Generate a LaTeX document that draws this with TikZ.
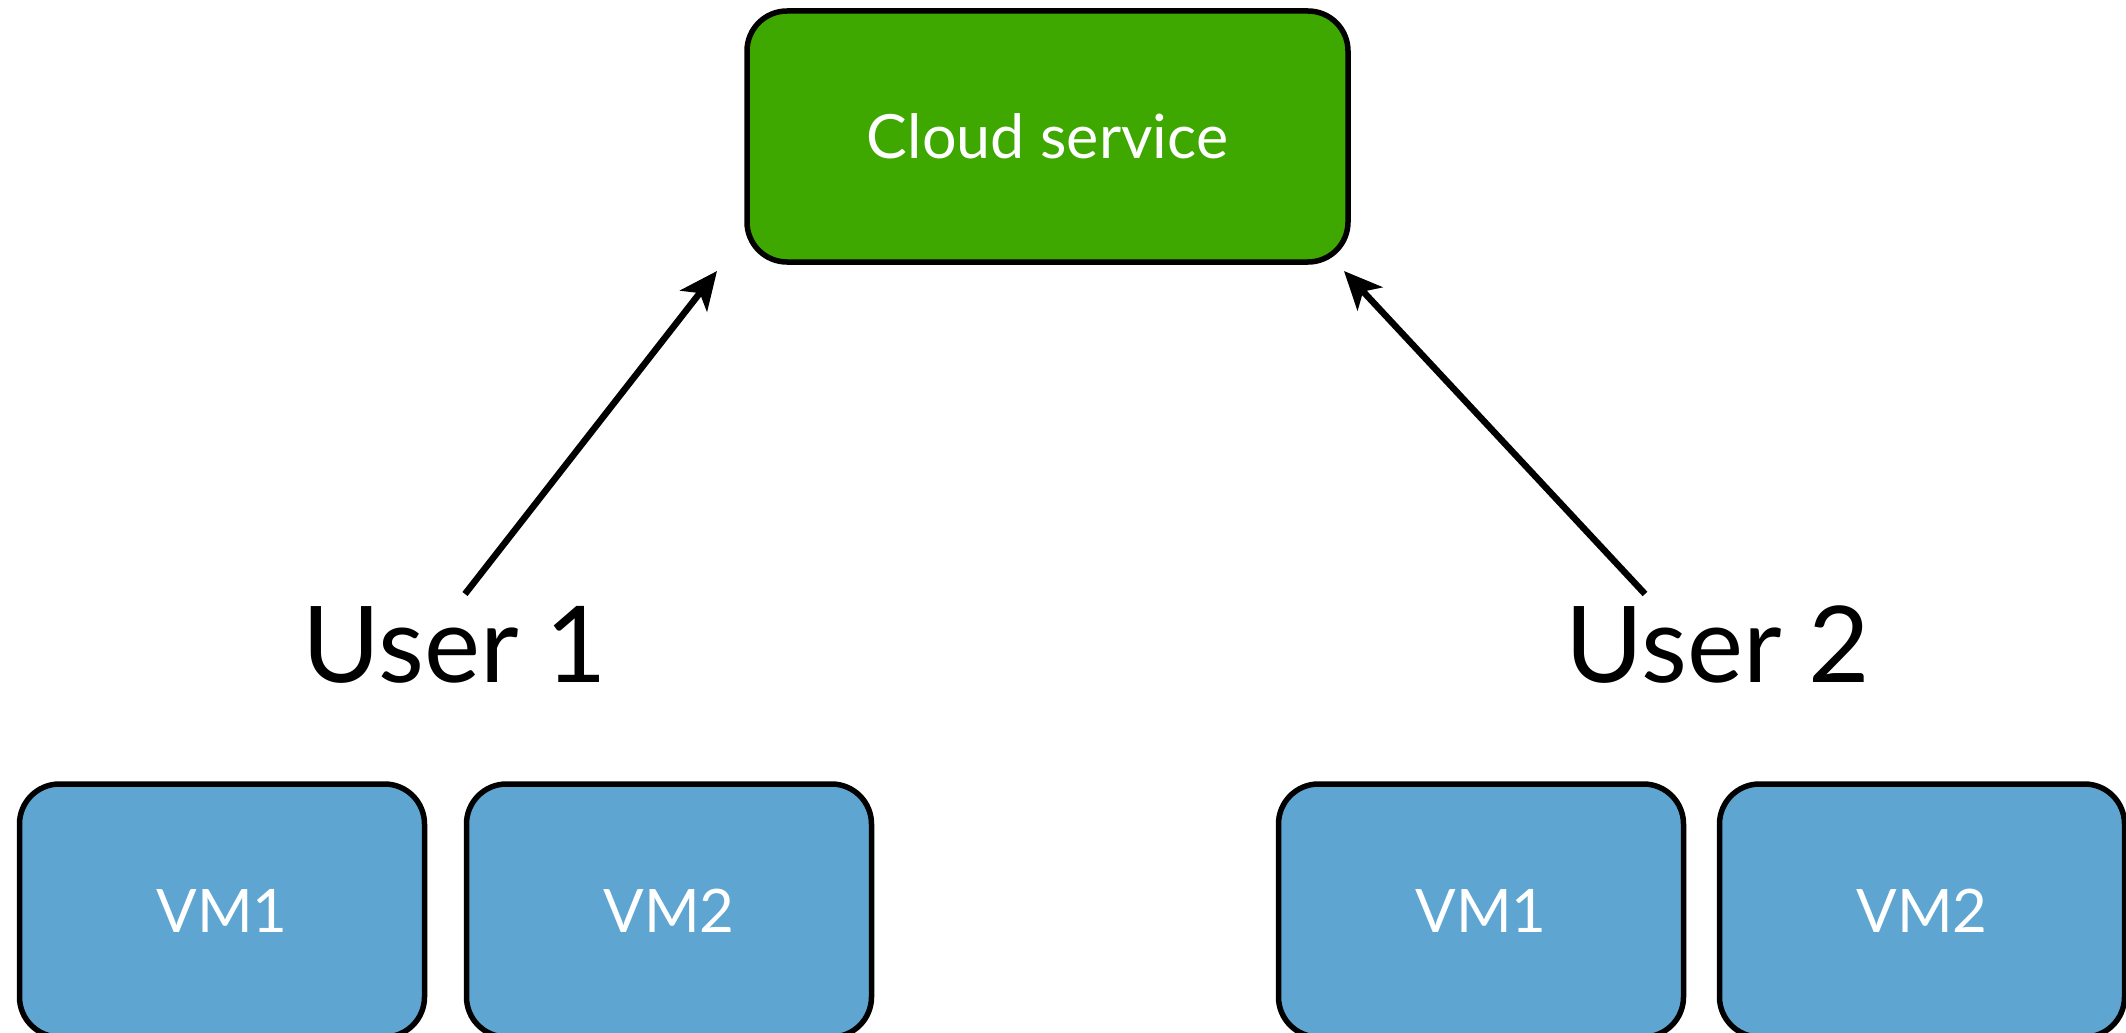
\documentclass[tikz,border=0pt]{standalone}
\usepackage{fontspec}
\setmainfont{Lato}
\usetikzlibrary{arrows.meta}
\definecolor{cloudgreen}{RGB}{62,168,0}
\definecolor{vmblue}{RGB}{94,166,209}
\tikzset{
  box/.style={draw=black, line width=5.5pt, rounded corners=40pt, inner sep=0pt},
  cloudbox/.style={box, fill=cloudgreen, minimum width=601pt, minimum height=251pt,
    text=white, font=\fontsize{61}{66}\selectfont},
  vmbox/.style={box, fill=vmblue, minimum width=405pt, minimum height=253pt,
    text=white, font=\fontsize{60}{66}\selectfont},
  userlabel/.style={inner sep=0pt, font=\fontsize{106}{120}\selectfont},
  conn/.style={line width=6.5pt, -{Stealth[length=38pt, width=34pt, inset=10pt]}}
}
\begin{document}
\begin{tikzpicture}[x=1pt,y=-1pt]
\useasboundingbox (0,0) rectangle (2126,1033);
\node[cloudbox] (cloud) at (1047.5,136.5) {Cloud service};
\node[userlabel, anchor=base] (user1) at (455,682) {User 1};
\node[userlabel, anchor=base] (user2) at (1718,682) {User 2};
\node[vmbox] (u1vm1) at (222,910.5) {VM1};
\node[vmbox] (u1vm2) at (669,910.5) {VM2};
\node[vmbox] (u2vm1) at (1481,910.5) {VM1};
\node[vmbox] (u2vm2) at (1922,910.5) {VM2};
\coordinate (s1) at (465,594);
\coordinate (t1) at (717,271);
\coordinate (s2) at (1645,594);
\coordinate (t2) at (1344,271);
\draw[conn] (s1) -- (t1);
\draw[conn] (s2) -- (t2);
\end{tikzpicture}
\end{document}
